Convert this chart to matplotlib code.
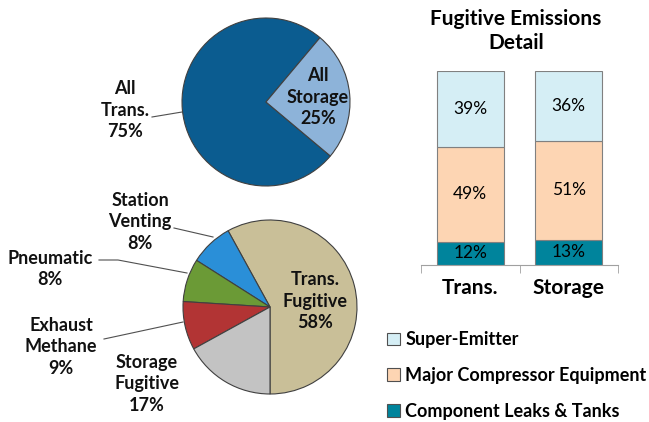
import matplotlib.pyplot as plt
from matplotlib.patches import Patch

plt.rcParams['font.family'] = ['Lato', 'DejaVu Sans']

# top pie
top_labels = ['All\nTrans.\n75%', 'All\nStorage\n25%']
top_values = [75, 25]
top_colors = ['#0B5C90', '#8DB3D9']

# bottom pie (counterclockwise from bottom)
bot_labels = ['Trans.\nFugitive\n58%', 'Station\nVenting\n8%', 'Pneumatic\n8%',
              'Exhaust\nMethane\n9%', 'Storage\nFugitive\n17%']
bot_values = [58, 8, 8, 9, 17]
bot_colors = ['#C9BF98', '#2A8FD8', '#6B9A36', '#B23434', '#C3C3C3']

# stacked bars
categories = ['Trans.', 'Storage']
leaks = [12, 13]
compressor = [49, 51]
super_emitter = [39, 36]
series_names = ['Component Leaks & Tanks', 'Major Compressor Equipment', 'Super-Emitter']
series_colors = ['#00849C', '#FDD5B3', '#D5EEF5']

W, H = 649, 422
fig = plt.figure(figsize=(W / 100, H / 100), dpi=100)

# pie axes in pixel coordinates (y up)
ax = fig.add_axes([0, 0, 1, 1])
ax.set_aspect('equal')

wp = dict(edgecolor='#404040', linewidth=0.8)
ax.pie(top_values, colors=top_colors, startangle=50, center=(266, H - 102),
       radius=84, wedgeprops=wp, frame=True)
ax.pie(bot_values, colors=bot_colors, startangle=-90, center=(270, H - 307),
       radius=87, wedgeprops=wp, frame=True)
ax.set_xlim(0, W)
ax.set_ylim(0, H)
ax.axis('off')

tk = dict(ha='center', va='center', fontsize=13, fontweight='bold',
          linespacing=1.35, color='#111111')
ax.text(125, H - 110, top_labels[0], **tk)
ax.text(318, H - 97, top_labels[1], **tk)
ax.text(315, H - 301, bot_labels[0], **tk)
ax.text(140, H - 222, bot_labels[1], **tk)
ax.text(50, H - 269, bot_labels[2], **tk)
ax.text(61, H - 347, bot_labels[3], **tk)
ax.text(147, H - 384, bot_labels[4], **tk)

lk = dict(color='#505050', linewidth=0.8)
ax.plot([152, 182], [H - 117, H - 112], **lk)
ax.plot([174, 213], [H - 228, H - 237], **lk)
ax.plot([99, 118, 187], [H - 260, H - 260, H - 273], **lk)
ax.plot([104, 183], [H - 339, H - 322], **lk)

# bar chart
bx = fig.add_axes([421 / W, 157 / H, 197 / W, 194 / H])
x = range(len(categories))
bottom2 = [a + b for a, b in zip(leaks, compressor)]
bx.bar(x, leaks, width=0.68, color=series_colors[0], edgecolor='#808080', linewidth=0.8)
bx.bar(x, compressor, width=0.68, bottom=leaks, color=series_colors[1],
       edgecolor='#808080', linewidth=0.8)
bx.bar(x, super_emitter, width=0.68, bottom=bottom2, color=series_colors[2],
       edgecolor='#808080', linewidth=0.8)
for i in x:
    bx.text(i, leaks[i] / 2, f'{leaks[i]}%', ha='center', va='center', fontsize=12.5)
    bx.text(i, leaks[i] + compressor[i] / 2, f'{compressor[i]}%', ha='center',
            va='center', fontsize=12.5)
    bx.text(i, bottom2[i] + super_emitter[i] / 2, f'{super_emitter[i]}%',
            ha='center', va='center', fontsize=12.5)
bx.set_xlim(-0.5, 1.5)
bx.set_ylim(0, 100)
for s in ['top', 'right', 'left']:
    bx.spines[s].set_visible(False)
bx.spines['bottom'].set_color('#A0A0A0')
bx.set_yticks([])
bx.set_xticks(list(x))
bx.set_xticklabels(categories, fontsize=15, fontweight='bold')
bx.tick_params(axis='x', which='major', length=0, pad=9)
bx.set_xticks([-0.5, 0.5, 1.5], minor=True)
bx.tick_params(axis='x', which='minor', length=6, color='#A0A0A0')

fig.text(516 / W, 1 - 31 / H, 'Fugitive Emissions\nDetail', ha='center', va='center',
         fontsize=15, fontweight='bold', linespacing=1.3)

handles = [Patch(facecolor=c, edgecolor='#505050', linewidth=0.8) for c in series_colors]
fig.legend(handles[::-1], series_names[::-1], loc='upper left',
           bbox_to_anchor=(380 / W, 1 - 324 / H), frameon=False,
           prop=dict(size=13, weight='bold'), handlelength=0.7, handleheight=0.7,
           handletextpad=0.3, labelspacing=1.04, borderaxespad=0)

fig.savefig('out.png', dpi=100)
